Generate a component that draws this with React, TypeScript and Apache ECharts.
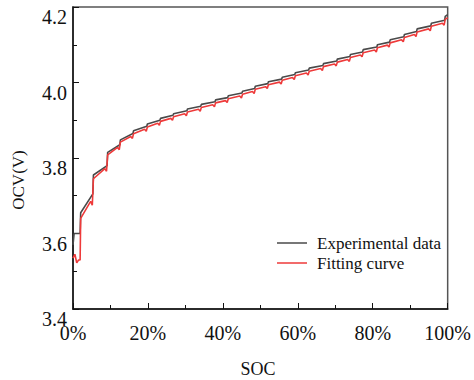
import React, { useEffect, useRef } from "react";
import * as echarts from "echarts";

// SOC (%) where each charge pulse step (voltage jump) happens
const stepSoc = [1.9, 5.3, 9.1, 12.5, 16.0, 19.7, 23.2, 26.7, 30.4, 34.1, 37.9, 41.3, 45.1, 48.5, 52.0, 55.7, 59.2, 62.9, 66.7, 70.4, 73.9, 77.3, 81.1, 84.5, 88.3, 91.7, 95.5, 99.2];

// Experimental data: value before first step, value just after each jump, value at end of each plateau
const expHead: number[][] = [[0, 3.57], [0.3, 3.6], [1.9, 3.6]];
const expStart = [3.655, 3.755, 3.815, 3.848, 3.872, 3.890, 3.905, 3.917, 3.930, 3.942, 3.954, 3.965, 3.977, 3.990, 4.002, 4.014, 4.026, 4.038, 4.050, 4.062, 4.074, 4.087, 4.100, 4.113, 4.127, 4.142, 4.157, 4.175];
const expEnd = [3.705, 3.780, 3.835, 3.865, 3.884, 3.900, 3.913, 3.925, 3.937, 3.949, 3.960, 3.972, 3.984, 3.997, 4.009, 4.021, 4.033, 4.045, 4.057, 4.069, 4.081, 4.094, 4.107, 4.121, 4.135, 4.150, 4.165, 4.180];

// Fitting curve
const fitHead: number[][] = [[0, 3.535], [0.5, 3.545], [1.0, 3.522], [1.5, 3.53], [1.9, 3.53]];
const fitStart = [3.640, 3.745, 3.808, 3.842, 3.864, 3.882, 3.897, 3.909, 3.922, 3.934, 3.946, 3.957, 3.969, 3.982, 3.994, 4.006, 4.018, 4.030, 4.042, 4.054, 4.066, 4.079, 4.092, 4.105, 4.119, 4.134, 4.149, 4.167];
const fitEnd = [3.685, 3.772, 3.828, 3.857, 3.876, 3.892, 3.905, 3.917, 3.929, 3.941, 3.952, 3.964, 3.976, 3.989, 4.001, 4.013, 4.025, 4.037, 4.049, 4.061, 4.073, 4.086, 4.099, 4.113, 4.127, 4.142, 4.157, 4.172];
const fitDip = [3.675, 3.765, 3.822, 3.852, 3.871, 3.887, 3.900, 3.912, 3.924, 3.936, 3.947, 3.959, 3.971, 3.984, 3.996, 4.008, 4.020, 4.032, 4.044, 4.056, 4.068, 4.081, 4.094, 4.108, 4.122, 4.137, 4.152];

const yTicks = [3.4, 3.6, 3.8, 4.0, 4.2];
const xTicks = [0, 20, 40, 60, 80, 100];
const seriesNames = ["Experimental data", "Fitting curve"];

function buildExp(): number[][] {
  const pts: number[][] = expHead.map((p) => [p[0], p[1]]);
  for (let i = 0; i < stepSoc.length; i++) {
    pts.push([stepSoc[i] + 0.15, expStart[i]]);
    const next = i < stepSoc.length - 1 ? stepSoc[i + 1] : 100;
    pts.push([next, expEnd[i]]);
  }
  return pts;
}

function buildFit(): number[][] {
  const pts: number[][] = fitHead.map((p) => [p[0], p[1]]);
  for (let i = 0; i < stepSoc.length; i++) {
    pts.push([stepSoc[i] + 0.15, fitStart[i]]);
    if (i < stepSoc.length - 1) {
      const next = stepSoc[i + 1];
      pts.push([next - 0.6, fitEnd[i]]);
      pts.push([next - 0.15, fitDip[i]]);
    } else {
      pts.push([100, fitEnd[i]]);
    }
  }
  return pts;
}

const FONT = "Liberation Serif";

export default function App() {
  const ref = useRef<HTMLDivElement>(null);
  useEffect(() => {
    if (!ref.current) return;
    const chart = echarts.init(ref.current, undefined, { renderer: "svg" });
    chart.setOption({
      animation: false,
      backgroundColor: "#ffffff",
      textStyle: { fontFamily: FONT },
      grid: {
        left: 73,
        right: 26,
        top: 7,
        bottom: 71,
        show: true,
        borderColor: "#555",
        borderWidth: 1.5,
      },
      legend: {
        data: seriesNames,
        orient: "vertical",
        left: 277,
        top: 234,
        padding: 0,
        icon: "rect",
        itemWidth: 30,
        itemHeight: 1.5,
        itemGap: 2,
        textStyle: {
          fontFamily: FONT,
          fontSize: 17,
          color: "#111",
          lineHeight: 18,
          padding: [0, 0, 0, 5],
        },
      },
      xAxis: {
        type: "value",
        min: xTicks[0],
        max: xTicks[xTicks.length - 1],
        interval: 20,
        axisLine: { show: true, lineStyle: { color: "#111", width: 1.5 } },
        axisTick: { show: true, inside: true, length: 6, lineStyle: { color: "#111" } },
        minorTick: { show: true, splitNumber: 2, length: 4, lineStyle: { color: "#111" } },
        splitLine: { show: false },
        axisLabel: {
          formatter: "{value}%",
          fontFamily: FONT,
          fontSize: 20,
          color: "#111",
          margin: 14,
        },
      },
      yAxis: {
        type: "value",
        min: yTicks[0],
        max: yTicks[yTicks.length - 1],
        interval: 0.2,
        axisLine: { show: true, lineStyle: { color: "#111", width: 1.5 } },
        axisTick: { show: true, inside: true, length: 6, lineStyle: { color: "#111" } },
        minorTick: { show: true, splitNumber: 2, length: 4, lineStyle: { color: "#111" } },
        splitLine: { show: false },
        axisLabel: {
          formatter: (v: number) => v.toFixed(1),
          fontFamily: FONT,
          fontSize: 20,
          color: "#111",
          margin: 6,
          verticalAlign: "top",
          lineHeight: 20,
        },
      },
      graphic: [
        {
          type: "text",
          x: 18,
          y: 180,
          rotation: Math.PI / 2,
          style: {
            text: "OCV(V)",
            fontFamily: FONT,
            fontSize: 17,
            fill: "#111",
            align: "center",
            verticalAlign: "middle",
          },
        },
        {
          type: "text",
          x: 258,
          y: 369,
          style: {
            text: "SOC",
            fontFamily: FONT,
            fontSize: 18,
            fill: "#111",
            align: "center",
            verticalAlign: "middle",
          },
        },
      ],
      series: [
        {
          name: seriesNames[0],
          type: "line",
          data: buildExp(),
          showSymbol: false,
          lineStyle: { color: "#4a4a4a", width: 1.6 },
          itemStyle: { color: "#4a4a4a" },
        },
        {
          name: seriesNames[1],
          type: "line",
          data: buildFit(),
          showSymbol: false,
          lineStyle: { color: "#ee3a3a", width: 1.6 },
          itemStyle: { color: "#ee3a3a" },
        },
      ],
    });
    return () => chart.dispose();
  }, []);
  return (
    <div
      ref={ref}
      style={{ position: "absolute", left: 0, top: 0, width: 474, height: 380 }}
    />
  );
}
